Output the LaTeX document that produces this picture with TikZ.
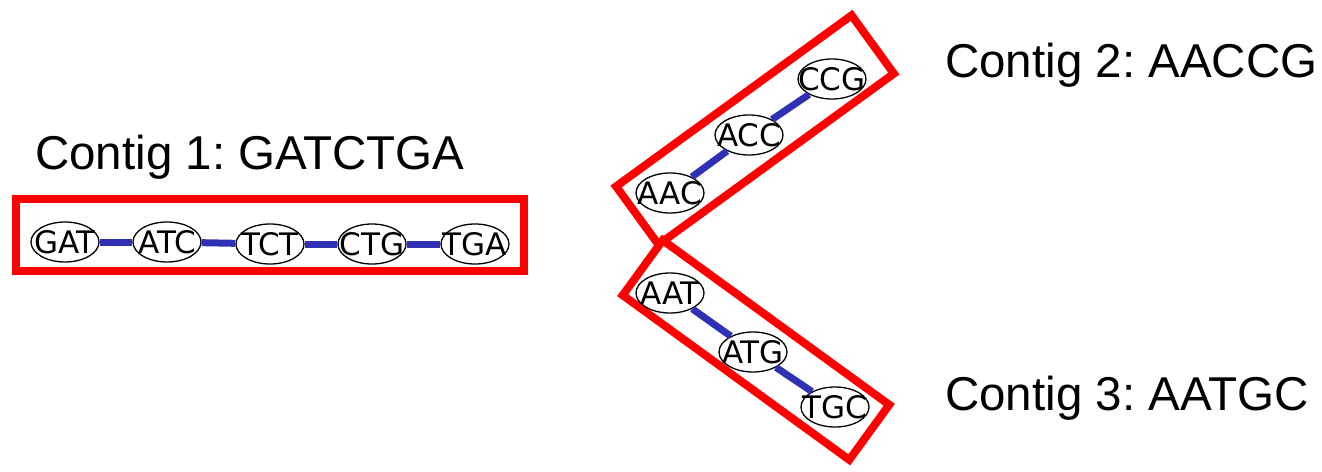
\documentclass[tikz,border=0pt]{standalone}
\usepackage{fontspec}
\setmainfont{Liberation Sans}
\newfontfamily\kmerfont{DejaVu Sans}
\usetikzlibrary{shapes.geometric}
\definecolor{edgeblue}{RGB}{48,48,180}
\begin{document}
\frenchspacing
\begin{tikzpicture}[x=1pt,y=-1pt,
  kmer/.style={draw=black,line width=1.3pt,ellipse,fill=white,minimum width=68pt,minimum height=40pt,inner sep=0pt},
  klabel/.style={font=\kmerfont\fontsize{31}{34}\selectfont,inner sep=0pt},
  contigbox/.style={draw=red,line width=8pt,rectangle,inner sep=0pt},
  edge/.style={draw=edgeblue,line width=7pt},
  title/.style={font=\fontsize{47.5}{52}\selectfont,inner sep=0pt,anchor=west}]
\useasboundingbox (0,0) rectangle (1322,471);
% contig boxes
\node[contigbox,minimum width=508pt,minimum height=72pt] (box1) at (270,235) {};
\node[contigbox,rotate=36,minimum width=291pt,minimum height=72pt] (box2) at (755,130) {};
\node[contigbox,rotate=-36,minimum width=280pt,minimum height=68pt] (box3) at (756,350) {};
% contig 1
\node[kmer,label={[klabel]center:GAT}] (gat) at (65,242) {};
\node[kmer,label={[klabel]center:ATC}] (atc) at (167,242) {};
\node[kmer,label={[klabel]center:TCT}] (tct) at (270,244) {};
\node[kmer,label={[klabel]center:CTG}] (ctg) at (372,244) {};
\node[kmer,label={[klabel]center:TGA}] (tga) at (475,244) {};
% contig 2
\node[kmer,label={[klabel]center:AAC}] (aac) at (670,193) {};
\node[kmer,label={[klabel]center:ACC}] (acc) at (749,135) {};
\node[kmer,label={[klabel]center:CCG}] (ccg) at (832,79) {};
% contig 3
\node[kmer,label={[klabel]center:AAT}] (aat) at (670,293) {};
\node[kmer,label={[klabel]center:ATG}] (atg) at (753,352) {};
\node[kmer,label={[klabel]center:TGC}] (tgc) at (835,407) {};
% edges
\draw[edge] (gat) -- (atc);
\draw[edge] (atc) -- (tct);
\draw[edge] (tct) -- (ctg);
\draw[edge] (ctg) -- (tga);
\draw[edge] (aac) -- (acc);
\draw[edge] (acc) -- (ccg);
\draw[edge] (aat) -- (atg);
\draw[edge] (atg) -- (tgc);
% titles
\node[title] (t1) at (35,157) {Contig 1: GATCTGA};
\node[title] (t2) at (945,65) {Contig 2: AACCG};
\node[title] (t3) at (945,398) {Contig 3: AATGC};
\end{tikzpicture}
\end{document}
